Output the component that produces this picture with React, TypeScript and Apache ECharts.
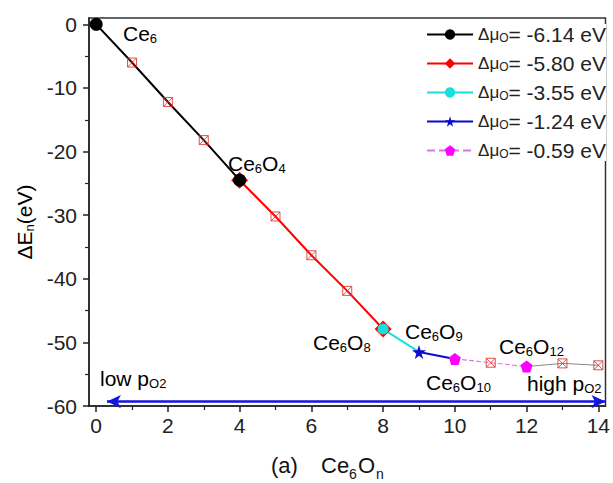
import React, { useEffect, useRef } from "react";
import * as echarts from "echarts";

// ---- data ----
const nValues = [0, 1, 2, 3, 4, 5, 6, 7, 8, 9, 10, 11, 12, 13, 14];
const energy = [0, -6.0, -12.2, -18.2, -24.5, -30.2, -36.3, -41.9, -47.9, -51.5, -52.6, -53.2, -53.8, -53.3, -53.6];
const muLabels = ["-6.14", "-5.80", "-3.55", "-1.24", "-0.59"];
// segment ranges (index from, index to) for each Δμ line
const segmentRanges = [[0, 4], [4, 8], [8, 9], [9, 10], [10, 12]];
// points carrying the big marker for each segment
const segmentMarked = [[0, 4], [4, 8], [8], [9], [10, 12]];
const tailRange = [12, 14];
const crossedPoints = [1, 2, 3, 5, 6, 7, 11, 13, 14];
const xTickValues = [0, 2, 4, 6, 8, 10, 12, 14];
const xMinorValues = [1, 3, 5, 7, 9, 11, 13];
const yTickValues = [-60, -50, -40, -30, -20, -10, 0];
const yMinorValues = [-55, -45, -35, -25, -15, -5];
const arrowSpan = [[0.3, -59.3], [14.2, -59.3]];

const FONT = "'Liberation Sans', Arial, sans-serif";
const STAR = "path://M50,0 L61,35 L98,35 L68,57 L79,91 L50,70 L21,91 L32,57 L2,35 L39,35Z";
const PENTAGON = "path://M50,0 L100,38 L81,100 L19,100 L0,38Z";
const CROSSED = "path://M0,0L10,0L10,10L0,10Z M0,0L10,10 M10,0L0,10";

const segStyles = [
  { color: "#000000", symbol: "circle", size: 13, line: { color: "#000000", width: 2, type: "solid" } },
  { color: "#ff0000", symbol: "diamond", size: 17, line: { color: "#ff0000", width: 2, type: "solid" } },
  { color: "#19e0e0", symbol: "circle", size: 11, line: { color: "#19e0e0", width: 2, type: "solid" } },
  { color: "#0a0ad0", symbol: STAR, size: 14, line: { color: "#0a0ad0", width: 2, type: "solid" } },
  { color: "#ff00ff", symbol: PENTAGON, size: 12, line: { color: "#e070e0", width: 1.2, type: "dashed" } },
];

function buildSegment(i: number) {
  const [a, b] = segmentRanges[i];
  const data: any[] = [];
  for (let k = a; k <= b; k++) {
    const item: any = { value: [nValues[k], energy[k]] };
    if (!segmentMarked[i].includes(k)) item.symbol = "none";
    data.push(item);
  }
  const s = segStyles[i];
  return {
    type: "line",
    name: muLabels[i],
    data,
    symbol: s.symbol,
    symbolSize: s.size,
    showAllSymbol: true,
    itemStyle: { color: s.color },
    lineStyle: s.line,
    z: 3,
  };
}

const sub = (size: number, lh: number) => ({ fontSize: size, fontFamily: FONT, color: "#111", lineHeight: lh, verticalAlign: "bottom" });
const big = (size: number) => ({ fontSize: size, fontFamily: FONT, color: "#111", lineHeight: size + 2 });

function label(x: number, y: number, text: string, size = 21) {
  return {
    type: "text",
    x,
    y,
    z: 20,
    style: {
      text,
      align: "left",
      verticalAlign: "middle",
      rich: { n: big(size), s: sub(Math.round(size * 0.62), 12) },
    },
  };
}

function plain(x: number, y: number, text: string, size: number) {
  return {
    type: "text",
    x,
    y,
    z: 20,
    style: { text, align: "left", verticalAlign: "middle", fontSize: size, fontFamily: FONT, fill: "#111" },
  };
}

export default function App() {
  const ref = useRef<HTMLDivElement>(null);
  useEffect(() => {
    if (!ref.current) return;
    const chart = echarts.init(ref.current, null, { renderer: "svg" });

    // draw order: red first so black circle sits on top at n=4
    const segSeries = [1, 0, 2, 3, 4].map(buildSegment);

    const tail: any[] = [];
    for (let k = tailRange[0]; k <= tailRange[1]; k++) tail.push([nValues[k], energy[k]]);

    const option: any = {
      animation: false,
      grid: {
        left: 89,
        right: 5,
        top: 18,
        bottom: 77,
        show: true,
        borderColor: "#333",
        borderWidth: 1.5,
        backgroundColor: "transparent",
      },
      xAxis: [
        {
          type: "value",
          min: -0.2,
          max: 14.2,
          axisLine: { onZero: false, lineStyle: { color: "#222", width: 1.5 } },
          axisTick: { customValues: xTickValues, length: 6, lineStyle: { color: "#222", width: 1.5 } },
          axisLabel: { customValues: xTickValues, fontSize: 21, color: "#222", fontFamily: FONT, margin: 9 },
          splitLine: { show: false },
        },
        {
          type: "value",
          min: -0.2,
          max: 14.2,
          position: "bottom",
          axisLine: { show: false, onZero: false },
          axisTick: { customValues: xMinorValues, length: 4, lineStyle: { color: "#222", width: 1.2 } },
          axisLabel: { show: false },
          splitLine: { show: false },
        },
      ],
      yAxis: [
        {
          type: "value",
          min: -60,
          max: 1,
          axisLine: { show: true, onZero: false, lineStyle: { color: "#222", width: 1.5 } },
          axisTick: { show: true, customValues: yTickValues, length: 6, lineStyle: { color: "#222", width: 1.5 } },
          axisLabel: { customValues: yTickValues, fontSize: 21, color: "#222", fontFamily: FONT, margin: 12 },
          splitLine: { show: false },
        },
        {
          type: "value",
          min: -60,
          max: 1,
          position: "left",
          axisLine: { show: false, onZero: false },
          axisTick: { show: true, customValues: yMinorValues, length: 4, lineStyle: { color: "#222", width: 1.2 } },
          axisLabel: { show: false },
          splitLine: { show: false },
        },
      ],
      legend: {
        data: muLabels,
        orient: "vertical",
        right: 7,
        top: 24,
        padding: 0,
        itemWidth: 46,
        itemHeight: 13,
        itemGap: 8,
        backgroundColor: "#fff",
        formatter: (name: string) => `{a|Δμ}{b|O}{c|= ${name} eV}`,
        textStyle: {
          rich: {
            a: { fontSize: 17, fontFamily: FONT, color: "#222", lineHeight: 19 },
            b: { fontSize: 12, fontFamily: FONT, color: "#222", verticalAlign: "bottom", lineHeight: 14 },
            c: { fontSize: 21, fontFamily: FONT, color: "#222", lineHeight: 19 },
          },
        },
      },
      series: [
        ...segSeries,
        {
          type: "line",
          name: "tail",
          data: tail,
          symbol: "none",
          lineStyle: { color: "#888", width: 1 },
          z: 2,
          markLine: {
            silent: true,
            symbol: ["arrow", "arrow"],
            symbolSize: [10, 14],
            label: { show: false },
            lineStyle: { color: "#1515e0", width: 2.5, type: "solid" },
            data: [[{ coord: arrowSpan[0] }, { coord: arrowSpan[1] }]],
          },
        },
        {
          type: "scatter",
          name: "crossed",
          data: crossedPoints.map((k) => [nValues[k], energy[k]]),
          symbol: CROSSED,
          symbolSize: 9,
          itemStyle: { color: "rgba(0,0,0,0)", borderColor: "#e02424", borderWidth: 1 },
          z: 4,
        },
      ],
      graphic: [
        label(123, 33, "{n|Ce}{s|6}"),
        label(228, 163, "{n|Ce}{s|6}{n|O}{s|4}"),
        label(313, 342, "{n|Ce}{s|6}{n|O}{s|8}"),
        label(405, 331, "{n|Ce}{s|6}{n|O}{s|9}"),
        label(426, 382, "{n|Ce}{s|6}{n|O}{s|10}"),
        label(499, 346, "{n|Ce}{s|6}{n|O}{s|12}"),
        label(100, 378, "{n|low p}{s|O2}"),
        label(527, 383, "{n|high p}{s|O2}"),
        {
          type: "text",
          x: 24,
          y: 222,
          rotation: Math.PI / 2,
          style: {
            text: "{n|ΔE}{s|n}{n|(eV)}",
            align: "center",
            verticalAlign: "middle",
            rich: { n: big(21), s: sub(13, 12) },
          },
        },
        plain(271, 465, "(a)", 22),
        plain(321, 465, "Ce", 22),
        plain(349, 474, "6", 14),
        plain(358, 465, "O", 22),
        plain(376, 474, "n", 14),
      ],
    };
    chart.setOption(option);
    return () => chart.dispose();
  }, []);
  return <div ref={ref} style={{ width: 613, height: 483, position: "absolute", left: 0, top: 0 }} />;
}
